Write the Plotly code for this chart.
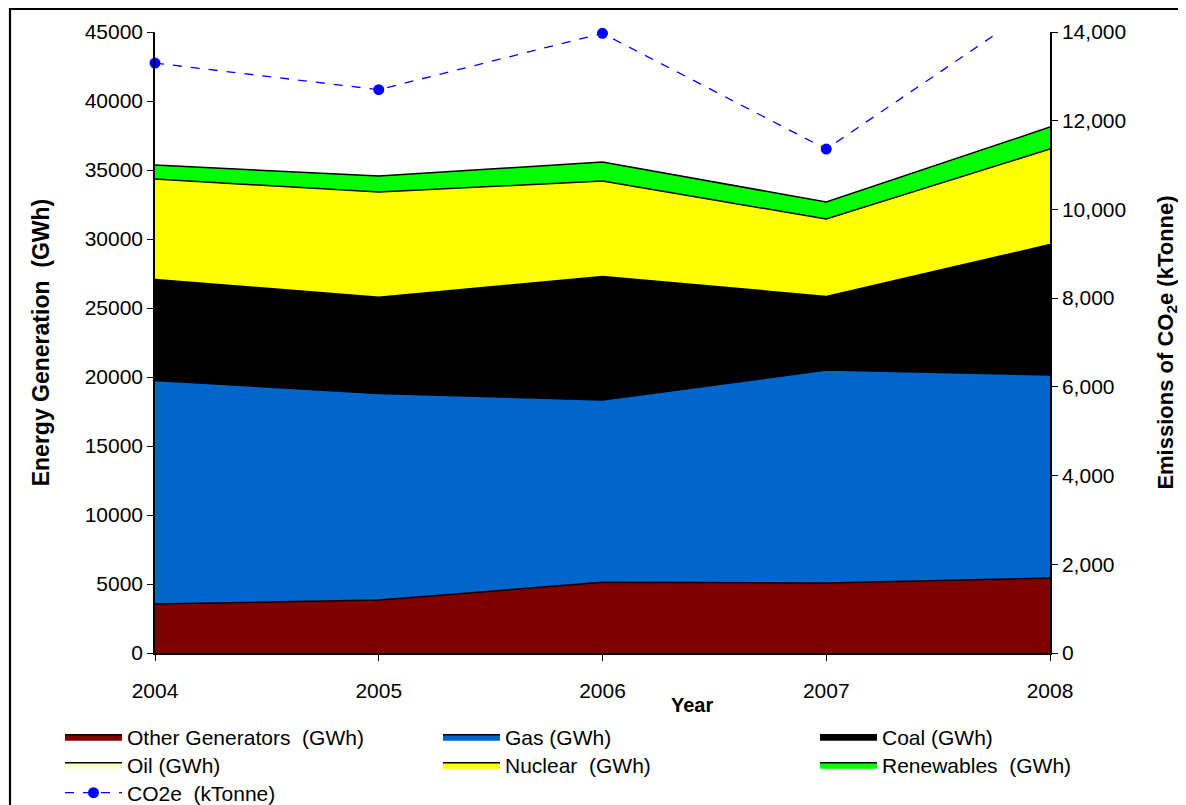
import plotly.graph_objects as go

years = [2004, 2005, 2006, 2007, 2008]
other = [3550, 3840, 5120, 5070, 5430]
gas = [16200, 14960, 13210, 15430, 14720]
coal = [7280, 6930, 8920, 5300, 9410]
oil = [40, 40, 40, 40, 40]
nuclear = [7280, 7630, 6910, 5610, 6920]
renewables = [1010, 1160, 1380, 1230, 1590]
co2e = [13300, 12700, 13970, 11360, 14780]

names = ["Other Generators  (GWh)", "Gas (GWh)", "Coal (GWh)",
         "Oil (GWh)", "Nuclear  (GWh)", "Renewables  (GWh)"]
values = [other, gas, coal, oil, nuclear, renewables]
colors = ["#800000", "#0066CC", "#000000", "#FFFFCC", "#FFFF00", "#00FF00"]

FONT = "Liberation Sans, Arial, sans-serif"
FS = 21
OFF = 8  # page body margin offset
ITEMW = 57

W, H = 1186 - OFF, 805 - OFF
L, R, T, B = 155 - OFF, 1186 - 1050, 32 - OFF, 805 - 653
PW, PH = W - L - R, H - T - B


def px(xs):
    return (xs - OFF - L) / PW


def py(ys):
    return (H - B - (ys - OFF)) / PH


# legend slot (text start x, row centre y) in screen pixels
col_x = [127, 505, 882]
row_y = [737, 765, 793]

fig = go.Figure()
legends = {}
for i, (name, vals, col) in enumerate(zip(names, values, colors)):
    lg = "legend" if i == 0 else f"legend{i + 1}"
    fig.add_trace(go.Scatter(
        x=years, y=vals, name=name, stackgroup="one", mode="lines",
        line=dict(color="black", width=1.5), fillcolor=col, legend=lg,
    ))
    legends[lg] = (col_x[i % 3], row_y[i // 3])

fig.add_trace(go.Scatter(
    x=years, y=co2e, name="CO2e  (kTonne)", yaxis="y2", mode="lines+markers",
    line=dict(color="#0000FF", width=1.3, dash="dash"),
    marker=dict(color="#0000FF", size=11), cliponaxis=False, legend="legend7",
))
legends["legend7"] = (col_x[0], row_y[2])

legend_layout = {}
for lg, (tx, ty) in legends.items():
    legend_layout[lg] = dict(
        x=px(tx - ITEMW - 10), y=py(ty), xanchor="left", yanchor="middle",
        orientation="v", font=dict(size=FS, family=FONT), itemwidth=ITEMW,
        bgcolor="rgba(0,0,0,0)", borderwidth=0,
    )

fig.update_layout(
    width=W, height=H,
    margin=dict(l=L, r=R, t=T, b=B, autoexpand=False),
    paper_bgcolor="white", plot_bgcolor="white",
    font=dict(family=FONT, size=FS, color="black"),
    showlegend=True,
    **legend_layout,
    xaxis=dict(
        range=[2004, 2008], tickvals=years, ticktext=[str(y) for y in years],
        showgrid=False, zeroline=False, showline=True, linecolor="black", linewidth=1.5,
        ticks="outside", ticklen=6, tickcolor="black", ticklabelstandoff=12,
        tickfont=dict(size=FS),
    ),
    yaxis=dict(
        range=[0, 45000], dtick=5000, tickformat="d",
        showgrid=False, zeroline=False, showline=True, linecolor="black", linewidth=1.5,
        ticks="outside", ticklen=6, tickcolor="black",
        title=dict(text="<b>Energy Generation  (GWh)</b>", standoff=29, font=dict(size=23)),
        tickfont=dict(size=FS),
    ),
    yaxis2=dict(
        range=[0, 14000], dtick=2000, tickformat=",",
        overlaying="y", side="right", anchor="x",
        showgrid=False, zeroline=False, showline=True, linecolor="black", linewidth=1.5,
        ticks="outside", ticklen=6, tickcolor="black",
        title=dict(text="<b>Emissions of CO<sub>2</sub>e (kTonne)</b>", standoff=32, font=dict(size=22)),
        tickfont=dict(size=FS),
    ),
    annotations=[dict(
        text="<b>Year</b>", xref="paper", yref="paper",
        x=px(692), y=py(705), xanchor="center", yanchor="middle",
        showarrow=False, font=dict(size=20, family=FONT),
    )],
    shapes=[dict(
        type="rect", xref="paper", yref="paper",
        x0=px(10), y0=py(840), x1=px(1220), y1=py(9),
        line=dict(color="black", width=2.2), fillcolor="rgba(0,0,0,0)", layer="below",
    )],
)

fig.write_html("out.html")
